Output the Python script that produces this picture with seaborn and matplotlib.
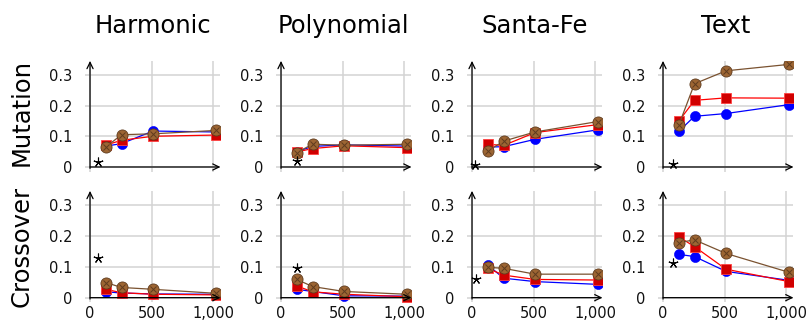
import numpy as np
import pandas as pd
import matplotlib
matplotlib.use("Agg")
import matplotlib.pyplot as plt
import seaborn as sns

sns.set_style("white")
plt.rcParams['font.family'] = ['DejaVu Sans']
plt.rcParams['text.color'] = 'black'
plt.rcParams['xtick.color'] = 'black'
plt.rcParams['ytick.color'] = 'black'
plt.rcParams['xtick.labelcolor'] = '#111111'
plt.rcParams['ytick.labelcolor'] = '#111111'

problems = ["Harmonic", "Polynomial", "Santa-Fe", "Text"]
operators = ["Mutation", "Crossover"]
sizes = [128, 256, 512, 1024]

# values[operator][problem] -> (blue, red, brown)
blue_mut = {
    "Harmonic":   [0.068, 0.076, 0.117, 0.114],
    "Polynomial": [0.050, 0.067, 0.072, 0.068],
    "Santa-Fe":   [0.065, 0.066, 0.090, 0.121],
    "Text":       [0.116, 0.165, 0.174, 0.203],
}
red_mut = {
    "Harmonic":   [0.071, 0.087, 0.100, 0.104],
    "Polynomial": [0.049, 0.060, 0.069, 0.063],
    "Santa-Fe":   [0.074, 0.070, 0.112, 0.138],
    "Text":       [0.149, 0.217, 0.225, 0.224],
}
brown_mut = {
    "Harmonic":   [0.065, 0.105, 0.108, 0.119],
    "Polynomial": [0.047, 0.074, 0.071, 0.074],
    "Santa-Fe":   [0.052, 0.084, 0.114, 0.148],
    "Text":       [0.136, 0.271, 0.313, 0.334],
}
blue_cx = {
    "Harmonic":   [0.019, 0.015, 0.012, 0.011],
    "Polynomial": [0.027, 0.020, 0.006, 0.005],
    "Santa-Fe":   [0.106, 0.063, 0.052, 0.043],
    "Text":       [0.140, 0.133, 0.085, 0.056],
}
red_cx = {
    "Harmonic":   [0.027, 0.016, 0.011, 0.009],
    "Polynomial": [0.038, 0.019, 0.011, 0.003],
    "Santa-Fe":   [0.095, 0.073, 0.059, 0.057],
    "Text":       [0.197, 0.165, 0.092, 0.052],
}
brown_cx = {
    "Harmonic":   [0.049, 0.033, 0.027, 0.014],
    "Polynomial": [0.059, 0.036, 0.020, 0.011],
    "Santa-Fe":   [0.098, 0.095, 0.076, 0.076],
    "Text":       [0.178, 0.187, 0.143, 0.082],
}
# reference star marker per panel (x, y)
star_mut = {"Harmonic": (64, 0.017), "Polynomial": (128, 0.020),
            "Santa-Fe": (24, 0.006), "Text": (80, 0.010)}
star_cx = {"Harmonic": (64, 0.128), "Polynomial": (128, 0.096),
           "Santa-Fe": (32, 0.060), "Text": (80, 0.113)}

data = {"Mutation": (blue_mut, red_mut, brown_mut, star_mut),
        "Crossover": (blue_cx, red_cx, brown_cx, star_cx)}

yticks = [0, 0.1, 0.2, 0.3]
ytick_labels = ["0", "0.1", "0.2", "0.3"]
xticks = [0, 500, 1000]
xtick_labels = ["0", "500", "1,000"]

W, H = 808, 326
fig = plt.figure(figsize=(W / 100, H / 100), dpi=100)

xmin, xmax = -40, 1060
ymin, ymax = -0.015, 0.345
ax_w = 135.3
ax_lefts = [85.1 + 191 * i for i in range(4)]
row_tops = [61.0, 191.0]
row_bottoms = [171.6, 302.3]

BLUE = "#0000ff"
RED_LINE = "#ff0000"
RED_FILL = "#d00000"
RED_EDGE = "#ff4040"
BROWN_LINE = "#7a5230"
BROWN_FILL = "#9c6533"
BROWN_EDGE = "#5e3b1e"

for r, op in enumerate(operators):
    blue, red, brown, star = data[op]
    for c, prob in enumerate(problems):
        left = ax_lefts[c] / W
        bottom = 1 - row_bottoms[r] / H
        height = (row_bottoms[r] - row_tops[r]) / H
        ax = fig.add_axes([left, bottom, ax_w / W, height])
        ax.set_xlim(xmin, xmax)
        ax.set_ylim(ymin, ymax)
        for s in ax.spines.values():
            s.set_visible(False)
        ax.set_xticks(xticks)
        ax.set_yticks(yticks)
        ax.grid(True, color="#d3d3d3", linewidth=1.1)
        ax.set_axisbelow(True)
        ax.set_yticklabels(ytick_labels, fontsize=10.5)
        if r == 1:
            ax.set_xticklabels(xtick_labels, fontsize=10.5)
        else:
            ax.set_xticklabels([])
        ax.tick_params(length=0)
        ax.tick_params(axis='y', pad=9)
        ax.tick_params(axis='x', pad=3)

        df = pd.DataFrame({"n": sizes, "blue": blue[prob],
                           "red": red[prob], "brown": brown[prob]})
        sns.lineplot(data=df, x="n", y="blue", ax=ax, color=BLUE, lw=0.9,
                     marker="o", markersize=7.3, markerfacecolor=BLUE,
                     markeredgecolor=BLUE, markeredgewidth=0.4, zorder=3)
        sns.lineplot(data=df, x="n", y="red", ax=ax, color=RED_LINE, lw=0.9,
                     marker="s", markersize=7.5, markerfacecolor=RED_FILL,
                     markeredgecolor=RED_EDGE, markeredgewidth=0.6, zorder=4)
        sns.lineplot(data=df, x="n", y="brown", ax=ax, color=BROWN_LINE, lw=0.9,
                     marker="o", markersize=8.0, markerfacecolor=BROWN_FILL,
                     markeredgecolor=BROWN_EDGE, markeredgewidth=0.6, zorder=5)
        ax.plot(df["n"], df["brown"], linestyle="none", marker="x",
                markersize=5.0, markeredgecolor=BROWN_EDGE,
                markeredgewidth=0.7, zorder=6)
        sx, sy = star[prob]
        ax.plot([sx], [sy], linestyle="none", marker=(5, 2, 0),
                markersize=7, markeredgecolor="black",
                markeredgewidth=0.8, zorder=7)
        ax.set_xlabel("")
        ax.set_ylabel("")

        # axis lines with arrows
        ax.annotate("", xy=(xmax, 0), xytext=(0, 0),
                    arrowprops=dict(arrowstyle="->,head_length=0.45,head_width=0.22",
                                    color="black", lw=0.9, shrinkA=0, shrinkB=0),
                    annotation_clip=False, zorder=8)
        ax.annotate("", xy=(0, ymax), xytext=(0, ymin * 0.3),
                    arrowprops=dict(arrowstyle="->,head_length=0.45,head_width=0.22",
                                    color="black", lw=0.9, shrinkA=0, shrinkB=0),
                    annotation_clip=False, zorder=8)
        ax.patch.set_visible(False)

        if r == 0:
            cx = (ax_lefts[c] + ax_w / 2) / W
            fig.text(cx, 1 - 33 / H, prob, ha="center", va="baseline",
                     fontsize=17.5, color="black")

fig.text(22 / W, 1 - 112.5 / H, "Mutation", rotation=90, ha="center",
         va="center", fontsize=17.5, color="black")
fig.text(22 / W, 1 - 246 / H, "Crossover", rotation=90, ha="center",
         va="center", fontsize=17.5, color="black")

fig.savefig("out.png", dpi=100)
